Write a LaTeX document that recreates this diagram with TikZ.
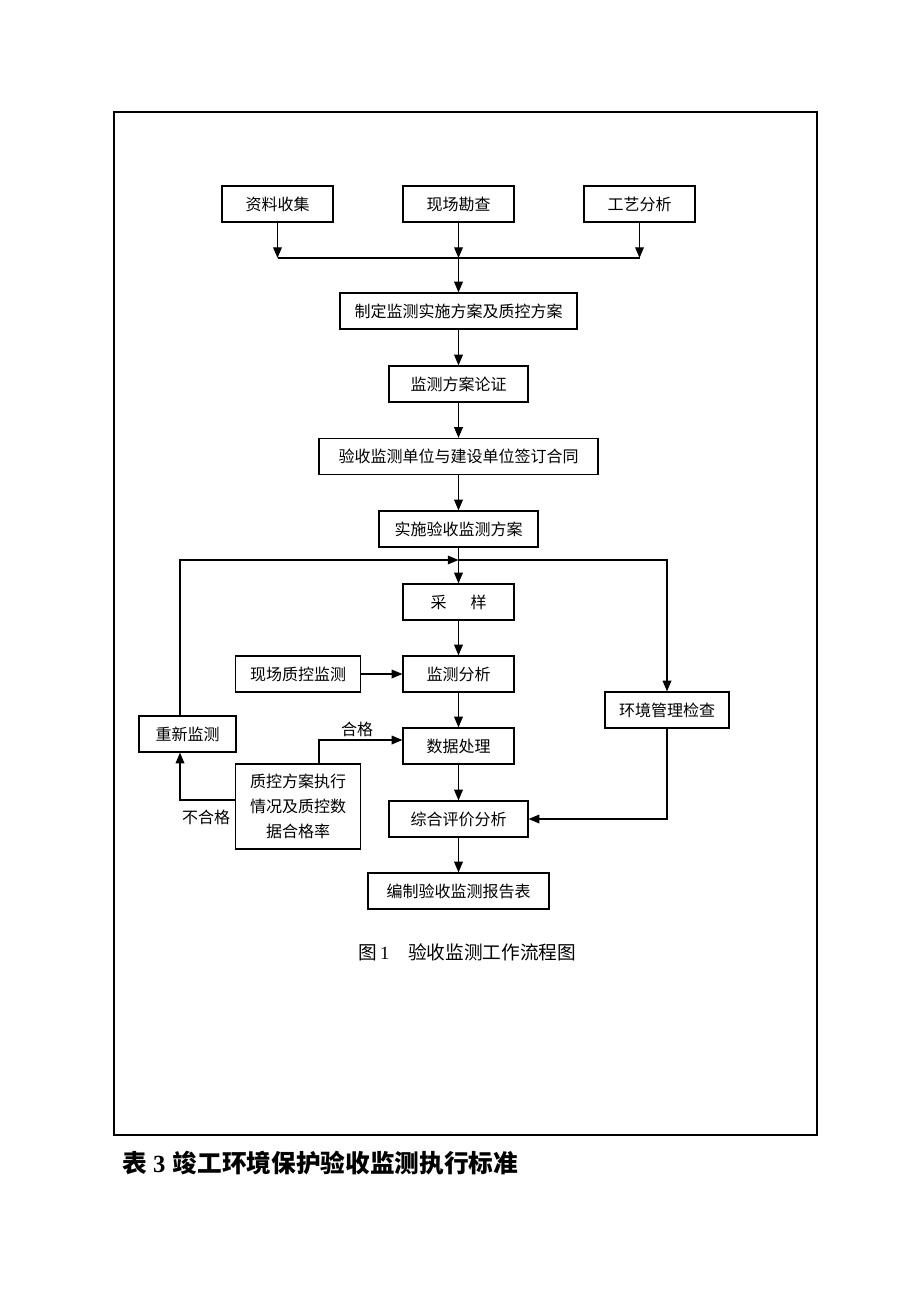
\documentclass[tikz,border=0pt]{standalone}
\usepackage{fontspec}
\setmainfont{Noto Sans CJK SC}
\newfontfamily\serifnum{Liberation Serif}
\usetikzlibrary{arrows.meta}
\begin{document}
\begin{tikzpicture}[x=0.75pt,y=-0.75pt,
  box/.style={draw,line width=0.9pt,inner sep=0pt,minimum height=36*0.75pt,font=\fontsize{12pt}{15pt}\selectfont,align=center},
  arr/.style={line width=0.9pt,-{Triangle[length=8pt,width=6.5pt]}},
  ln/.style={line width=0.9pt},
  lbl/.style={font=\fontsize{12pt}{15pt}\selectfont,inner sep=0pt}]
\useasboundingbox (0,0) rectangle (920,1302);
\draw[line width=1.6pt] (114,112) rectangle (817,1135);
% top row
\node[box,minimum width=111*0.75pt] (zl) at (277.5,204) {资料收集};
\node[box,minimum width=111*0.75pt] (xc) at (458.5,204) {现场勘查};
\node[box,minimum width=111*0.75pt] (gy) at (639.5,204) {工艺分析};
% central column
\node[box,minimum width=237*0.75pt] (zd) at (458.5,311) {制定监测实施方案及质控方案};
\node[box,minimum width=139*0.75pt] (lz) at (458.5,384) {监测方案论证};
\node[box,minimum width=279*0.75pt] (yq) at (458.5,456.5) {验收监测单位与建设单位签订合同};
\node[box,minimum width=159*0.75pt] (ss) at (458.5,529) {实施验收监测方案};
\node[box,minimum width=111*0.75pt] (cy) at (458.5,602) {采\hspace{1.5em}样};
\node[box,minimum width=111*0.75pt] (fx) at (458.5,674) {监测分析};
\node[box,minimum width=111*0.75pt] (sj) at (458.5,746) {数据处理};
\node[box,minimum width=139*0.75pt] (zh) at (458.5,819) {综合评价分析};
\node[box,minimum width=181*0.75pt] (bz) at (458.5,891) {编制验收监测报告表};
% side boxes
\node[box,minimum width=125*0.75pt] (xz) at (298,674) {现场质控监测};
\node[box,minimum width=124*0.75pt] (hj) at (667,710) {环境管理检查};
\node[box,minimum width=97*0.75pt] (cx) at (187.5,734) {重新监测};
\node[box,minimum width=125*0.75pt,minimum height=85*0.75pt,font=\fontsize{12pt}{18.5pt}\selectfont] (zk) at (298,806.5) {质控方案执行\\情况及质控数\\据合格率};
% junctions
\coordinate (j1) at (458.5,258);
\coordinate (j2) at (458.5,560);
\coordinate (qa) at (319,740);
\coordinate (nq) at (180,800);
% connectors
\draw[arr] (zl.south) -- (zl.south |- j1);
\draw[arr] (xc.south) -- (j1);
\draw[arr] (gy.south) -- (gy.south |- j1);
\draw[ln] (zl.south |- j1) -- (gy.south |- j1);
\draw[arr] (j1) -- (zd.north);
\draw[arr] (zd) -- (lz);
\draw[arr] (lz) -- (yq);
\draw[arr] (yq) -- (ss);
\draw[arr] (ss) -- (cy);
\draw[arr] (nq |- cx.north) |- (j2);
\draw[arr] (j2) -| (hj.north);
\draw[arr] (cy) -- (fx);
\draw[arr] (xz) -- (fx);
\draw[arr] (fx) -- (sj);
\draw[arr] (sj) -- (zh);
\draw[arr] (zh) -- (bz);
\draw[arr] (hj.south) |- (zh.east);
\draw[arr] (qa |- zk.north) -- (qa) -- (qa -| sj.west);
\draw[arr] (nq -| zk.west) -- (nq) -- (nq |- cx.south);
% labels
\node[lbl] (hg) at (357,729) {合格};
\node[lbl] (bhg) at (206,817) {不合格};
\node[lbl,font=\fontsize{14pt}{16pt}\selectfont,anchor=west] (cap) at (358,952) {图\,{\serifnum 1}\hspace{1em}验收监测工作流程图};
\node[inner sep=0pt,anchor=west,font=\fontsize{18.5pt}{20pt}\selectfont\bfseries] (title) at (122,1163) {表\hspace{0.25em}{\serifnum\bfseries 3}\hspace{0.3em}竣工环境保护验收监测执行标准};
\end{tikzpicture}
\end{document}
